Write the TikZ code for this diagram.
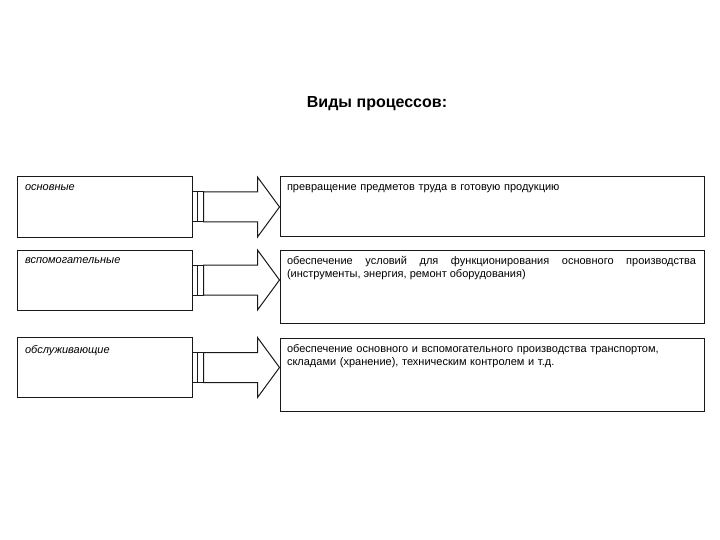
\documentclass[tikz,border=0pt]{standalone}
\usepackage{fontspec}
\setmainfont{Liberation Sans}
\usetikzlibrary{calc, positioning}
\def\headlen{22}

\begin{document}
\begin{tikzpicture}[x=1pt, y=-1pt, line width=1pt, draw=black!90]
    \tikzstyle{kind box}=[draw, rectangle, minimum width=175pt, minimum height=60pt, inner sep=0pt]
    \tikzstyle{info box}=[draw, rectangle, minimum width=424pt, inner sep=0pt]
    \tikzstyle{kind text}=[anchor=north west, inner sep=0pt, font=\fontsize{11}{13}\selectfont\itshape]
    \tikzstyle{info text}=[anchor=north west, inner sep=0pt, text width=409pt, font=\fontsize{11}{13}\selectfont]
    \tikzstyle{block arrow}=[draw, fill=white, line join=miter]

    \useasboundingbox (0,0) rectangle (720,540);

    % Title
    \node[font=\fontsize{16}{19}\selectfont\bfseries] (title) at (377,104) {Виды процессов:};

    % Draw the kinds on the left
    \foreach \i / \y / \name in {1/207/основные, 2/280/вспомогательные, 3/367.5/обслуживающие}
    {
        \node[kind box] (L-\i) at (104.5,\y) {};
        \node[kind text] (LT-\i) at ($(L-\i.north west)+(8,7.5)$) {\name};
    }

    % Draw the descriptions on the right
    \node[info box, minimum height=59pt] (R-1) at (492,206.5) {};
    \node[info box, minimum height=73pt] (R-2) at (492,286.5) {};
    \node[info box, minimum height=73pt] (R-3) at (492,374.5) {};

    \node[info text] (RT-1) at ($(R-1.north west)+(7,7.5)$) {превращение предметов труда в готовую продукцию};
    \node[info text, align=justify] (RT-2) at ($(R-2.north west)+(7,6.5)$) {обеспечение условий для функционирования основного производства (инструменты, энергия, ремонт оборудования)};
    \node[info text, align=left] (RT-3) at ($(R-3.north west)+(7,6.5)$) {обеспечение основного и вспомогательного производства транспортом,\\складами (хранение), техническим контролем и т.д.};

    % Connect every kind with its description
    \foreach \i in {1,...,3}
    {
        \coordinate (T-\i) at (L-\i.east -| R-\i.west);
        \draw ($(L-\i.east)+(0,-15)$) rectangle ($(L-\i.east)+(5,15)$);
        \draw ($(L-\i.east)+(5,-15)$) rectangle ($(L-\i.east)+(11,15)$);
        \draw[block arrow] ($(L-\i.east)+(11,-15)$) -- ($(T-\i)+(-\headlen,-15)$)
            -- ($(T-\i)+(-\headlen,-30)$) -- (T-\i) -- ($(T-\i)+(-\headlen,30)$)
            -- ($(T-\i)+(-\headlen,15)$) -- ($(L-\i.east)+(11,15)$) -- cycle;
    }
\end{tikzpicture}
\end{document}
